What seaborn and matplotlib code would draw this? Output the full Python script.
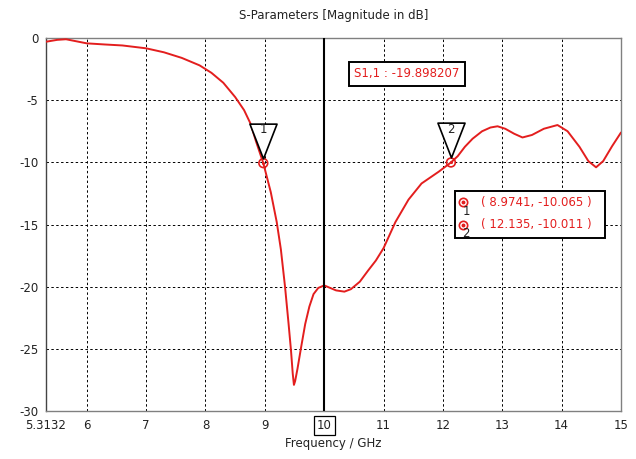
import numpy as np
import pandas as pd
import seaborn as sns
import matplotlib.pyplot as plt
import matplotlib.transforms as mtransforms
from matplotlib.path import Path
from matplotlib.patches import Rectangle

# S11 curve
freq = [5.3132, 5.5, 5.65, 6.0, 6.3, 6.6, 7.0, 7.3, 7.6, 7.9, 8.1, 8.3, 8.5,
        8.65, 8.76, 8.85, 8.9741, 9.1, 9.2, 9.27, 9.34, 9.4, 9.44, 9.47,
        9.49, 9.51, 9.55, 9.61, 9.68, 9.75, 9.82, 9.9, 10.0, 10.1, 10.2,
        10.34, 10.45, 10.6, 10.74, 10.87, 11.0, 11.2, 11.42, 11.64, 11.93,
        12.135, 12.25, 12.37, 12.5, 12.66, 12.8, 12.92, 13.05, 13.2,
        13.34, 13.5, 13.7, 13.93, 14.1, 14.3, 14.45, 14.58, 14.7, 14.85, 15.0]
s11 = [-0.3, -0.15, -0.1, -0.43, -0.52, -0.6, -0.83, -1.15, -1.6, -2.2, -2.8,
       -3.6, -4.75, -5.8, -6.9, -8.3, -10.065, -12.4, -14.8, -17.0, -20.0,
       -23.0, -25.1, -27.0, -27.9, -27.6, -26.6, -24.9, -23.0, -21.6, -20.6,
       -20.1, -19.9, -20.1, -20.3, -20.4, -20.2, -19.6, -18.7, -17.9, -16.9,
       -14.8, -13.0, -11.7, -10.75, -10.011, -9.5, -8.75, -8.1, -7.5,
       -7.2, -7.1, -7.3, -7.7, -8.0, -7.8, -7.3, -7.0, -7.5, -8.75, -9.9,
       -10.4, -9.9, -8.7, -7.6]

marker_f = [8.9741, 12.135]
marker_db = [-10.065, -10.011]
marker_ids = ["1", "2"]
marker_text = ["( 8.9741, -10.065 )", "( 12.135, -10.011 )"]

xticks = [5.3132, 6, 7, 8, 9, 10, 11, 12, 13, 14, 15]
xlabels = ["5.3132", "6", "7", "8", "9", "10", "11", "12", "13", "14", "15"]
yticks = [-30, -25, -20, -15, -10, -5, 0]

red = "#e31e1e"

sns.set_style("white")
plt.rcParams['font.family'] = ['DejaVu Sans']

df = pd.DataFrame({"Frequency": freq, "S11": s11})
mk = pd.DataFrame({"f": marker_f, "db": marker_db})

fig = plt.figure(figsize=(6.36, 4.59), dpi=100)
ax = fig.add_axes([46 / 636, 1 - 411 / 459, 575 / 636, 373 / 459])

sns.lineplot(data=df, x="Frequency", y="S11", ax=ax, color=red, lw=1.4,
             zorder=3)

# marker points
sns.scatterplot(data=mk, x="f", y="db", ax=ax, s=40, marker="o",
                facecolor="none", edgecolor=red, linewidth=1.2, zorder=5)
sns.scatterplot(data=mk, x="f", y="db", ax=ax, s=5, marker="o",
                color=red, linewidth=0, zorder=5)

ax.set_xlim(5.3132, 15)
ax.set_ylim(-30, 0)
ax.set_xticks(xticks)
ax.set_xticklabels(xlabels, fontsize=8.5, color="#222222")
ax.set_yticks(yticks)
ax.set_yticklabels([str(v) for v in yticks], fontsize=8.5, color="#222222")
ax.tick_params(direction="inout", length=5, width=0.8, color="#555555", pad=3)
ax.grid(True, color="black", ls=(0, (2.5, 2.5)), lw=0.7)
for side in ax.spines:
    ax.spines[side].set_color("#808080")
    ax.spines[side].set_linewidth(1.0)
ax.spines["left"].set_color("#444444")

# boxed "10" label
for lbl in ax.get_xticklabels():
    if lbl.get_text() == "10":
        lbl.set_bbox(dict(facecolor="white", edgecolor="black", lw=0.9,
                          boxstyle="square,pad=0.25"))

ax.set_xlabel("Frequency / GHz", fontsize=8.5, color="#222222", labelpad=4)
ax.set_ylabel("")
ax.set_title("S-Parameters [Magnitude in dB]", fontsize=8.5, color="#222222",
             pad=14)

# cursor line at 10 GHz
ax.axvline(10, color="black", lw=1.5, zorder=4)
ax.text(0.628, 0.9035, "S1,1 : -19.898207", transform=ax.transAxes,
        color=red, fontsize=8.5, ha="center", va="center",
        bbox=dict(facecolor="white", edgecolor="black", lw=1.4,
                  boxstyle="square,pad=0.45"), zorder=6)

# inverted triangle flags above each marker
tri = Path([(-0.39, 0.5), (0.39, 0.5), (0.0, -0.5), (-0.39, 0.5)],
           [Path.MOVETO, Path.LINETO, Path.LINETO, Path.CLOSEPOLY])
tri_tr = mtransforms.offset_copy(ax.transData, fig=fig, x=0, y=16,
                                 units="points")
lab_tr = mtransforms.offset_copy(ax.transData, fig=fig, x=0, y=24,
                                 units="points")
for f, d, i in zip(marker_f, marker_db, marker_ids):
    ax.plot([f], [d], marker=tri, ms=25, mfc="white", mec="black", mew=1.2,
            transform=tri_tr, zorder=6, clip_on=False)
    ax.text(f, d, i, transform=lab_tr, ha="center", va="center",
            fontsize=8.5, color="#222222", zorder=7)

# marker table box
ax.add_patch(Rectangle((0.711, 0.464), 0.261, 0.126, transform=ax.transAxes,
                       facecolor="white", edgecolor="black", lw=1.4, zorder=6))
rows_y = [0.559, 0.500]
for y, i, t in zip(rows_y, marker_ids, marker_text):
    ax.plot([0.726], [y], marker="o", ms=6, mfc="none", mec=red, mew=1.2,
            transform=ax.transAxes, zorder=7)
    ax.plot([0.726], [y], marker="o", ms=1.8, color=red,
            transform=ax.transAxes, zorder=7)
    ax.text(0.731, y - 0.024, i, transform=ax.transAxes, ha="center",
            va="center", fontsize=8.5, color="#222222", zorder=7)
    ax.text(0.757, y, t, transform=ax.transAxes, ha="left", va="center",
            fontsize=8.5, color=red, zorder=7)

fig.savefig("out.png", dpi=100)
